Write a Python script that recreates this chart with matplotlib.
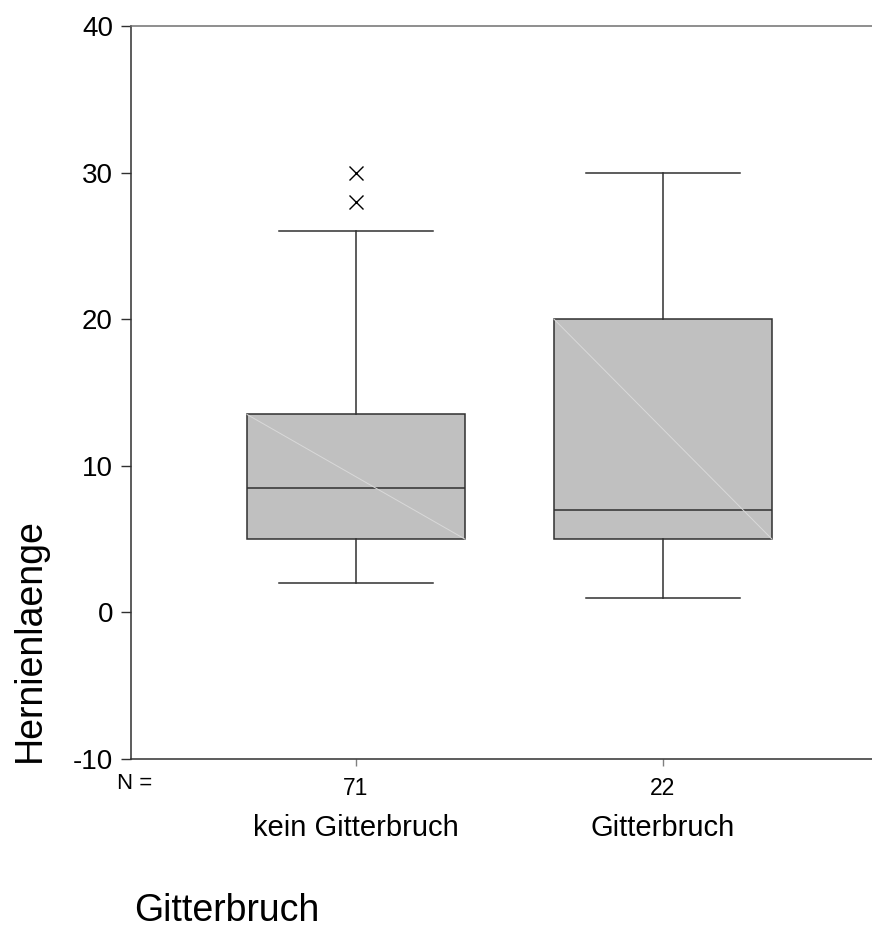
import matplotlib.pyplot as plt
from matplotlib.transforms import blended_transform_factory

plt.rcParams['font.family'] = ['Liberation Sans', 'DejaVu Sans']

# Summary statistics for Hernienlaenge per group
groups = ['kein Gitterbruch', 'Gitterbruch']
counts = [71, 22]
q1 = [5, 5]
median = [8.5, 7]
q3 = [13.5, 20]
whisker_low = [2, 1]
whisker_high = [26, 30]
outliers = [[30, 28], []]

positions = [1, 2]
line_col = '#303030'

fig = plt.figure(figsize=(8.72, 9.38), dpi=100)
ax = fig.add_axes([131 / 872, 1 - 759 / 938, 1 - 131 / 872, (759 - 26) / 938])

stats = []
for i in range(len(groups)):
    stats.append(dict(label=groups[i], q1=q1[i], med=median[i], q3=q3[i],
                      whislo=whisker_low[i], whishi=whisker_high[i],
                      fliers=outliers[i]))

ax.bxp(stats, positions=positions, widths=0.71, patch_artist=True,
       showfliers=True,
       boxprops=dict(facecolor='#c0c0c0', edgecolor=line_col, linewidth=1.1),
       medianprops=dict(color=line_col, linewidth=1.1),
       whiskerprops=dict(color=line_col, linewidth=1.1),
       capprops=dict(color=line_col, linewidth=1.1),
       capwidths=0.5,
       flierprops=dict(marker='x', markersize=10, markeredgecolor='black',
                       markeredgewidth=1.0, linestyle='none'))

# faint diagonal across each box, corner to corner
for i, p in enumerate(positions):
    ax.plot([p - 0.355, p + 0.355], [q3[i], q1[i]], color='#d9d9d9',
            linewidth=0.7, zorder=2.5)

ax.set_xlim(0.267, 2.681)
ax.set_ylim(-10, 40)
ax.set_yticks([-10, 0, 10, 20, 30, 40])
ax.set_yticklabels(['-10', '0', '10', '20', '30', '40'], fontsize=20)
ax.tick_params(axis='y', length=7, width=1, color=line_col, pad=6)

# group sizes sit where the x tick labels go
ax.set_xticks(positions)
ax.set_xticklabels([str(c) for c in counts], fontsize=16.5)
ax.tick_params(axis='x', length=5, width=1, color='#808080', pad=8)

ax.spines['right'].set_visible(False)
for s in ['left', 'bottom', 'top']:
    ax.spines[s].set_color(line_col)
    ax.spines[s].set_linewidth(1.1)
ax.spines['top'].set_color('#707070')

fig.text(117 / 872, 1 - 783 / 938, 'N =', fontsize=16, ha='left', va='center')

# group names below the counts
name_trans = blended_transform_factory(ax.transData, fig.transFigure)
for p, g in zip(positions, groups):
    ax.text(p, 1 - 828 / 938, g, transform=name_trans, fontsize=21,
            ha='center', va='center')

fig.text(30 / 872, 1 - 640 / 938, 'Hernienlaenge', rotation=90, fontsize=27,
         ha='center', va='center')
fig.text(134 / 872, 1 - 911 / 938, 'Gitterbruch', fontsize=27,
         ha='left', va='center')

fig.savefig('out.png', dpi=100)
